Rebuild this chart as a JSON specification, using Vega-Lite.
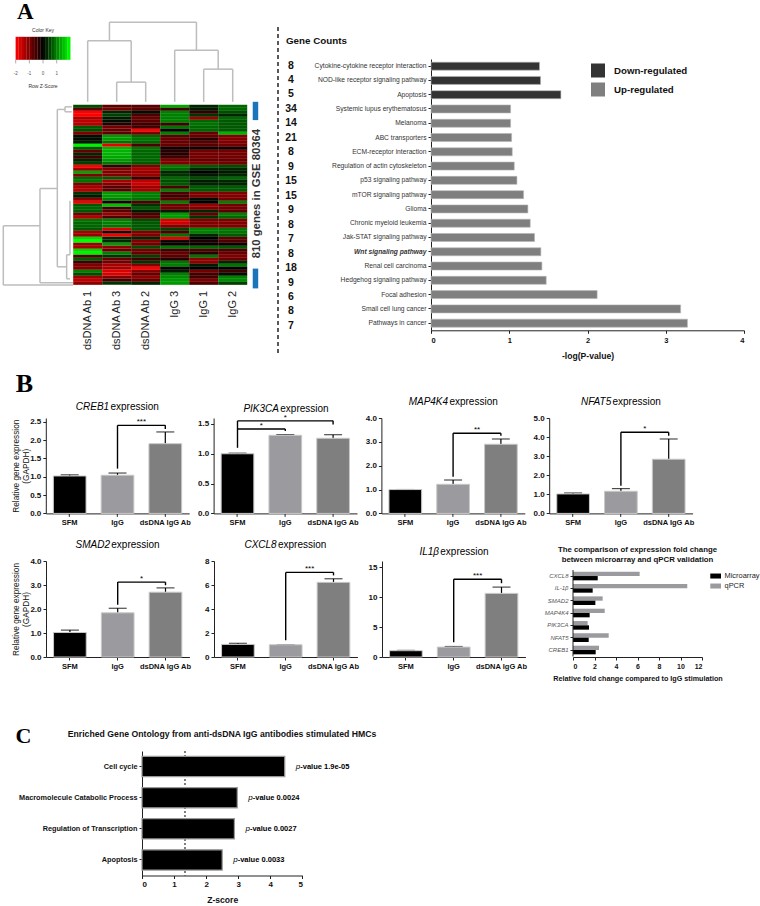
{"$schema":"https://vega.github.io/schema/vega-lite/v6.json","padding":{"left":2,"top":0,"right":0,"bottom":0},"background":"white",
"config":{"view":{"stroke":null},"font":"Liberation Sans","axis":{"grid":false,"domainColor":"#222","tickColor":"#222","labelColor":"#111","titleColor":"#111","tickSize":3,"labelPadding":2,"domainWidth":1,"tickWidth":1,"titleFontWeight":"normal","labelOverlap":false},"title":{"color":"#111"}},
"datasets":{
"cells":[
{"r":0.5,"c":0.5,"z":0.6},{"r":0.5,"c":1.5,"z":-0.7},{"r":0.5,"c":2.5,"z":-0.7},{"r":0.5,"c":3.5,"z":1.3},{"r":0.5,"c":4.5,"z":0.3},{"r":0.5,"c":5.5,"z":0.8},
{"r":1.5,"c":0.5,"z":-0.7},{"r":1.5,"c":1.5,"z":-0.9},{"r":1.5,"c":2.5,"z":-0.7},{"r":1.5,"c":3.5,"z":-0.5},{"r":1.5,"c":4.5,"z":0.2},{"r":1.5,"c":5.5,"z":0.8},
{"r":2.5,"c":0.5,"z":-2},{"r":2.5,"c":1.5,"z":0.3},{"r":2.5,"c":2.5,"z":0.1},{"r":2.5,"c":3.5,"z":1},{"r":2.5,"c":4.5,"z":-0.4},{"r":2.5,"c":5.5,"z":0.6},
{"r":3.5,"c":0.5,"z":-2},{"r":3.5,"c":1.5,"z":0.5},{"r":3.5,"c":2.5,"z":-0.6},{"r":3.5,"c":3.5,"z":1},{"r":3.5,"c":4.5,"z":0.4},{"r":3.5,"c":5.5,"z":0.3},
{"r":4.5,"c":0.5,"z":-1.3},{"r":4.5,"c":1.5,"z":0.2},{"r":4.5,"c":2.5,"z":-0.8},{"r":4.5,"c":3.5,"z":1},{"r":4.5,"c":4.5,"z":-1.2},{"r":4.5,"c":5.5,"z":0.8},
{"r":5.5,"c":0.5,"z":-1.5},{"r":5.5,"c":1.5,"z":0.1},{"r":5.5,"c":2.5,"z":-0.7},{"r":5.5,"c":3.5,"z":1},{"r":5.5,"c":4.5,"z":0.8},{"r":5.5,"c":5.5,"z":0.7},
{"r":6.5,"c":0.5,"z":-1.4},{"r":6.5,"c":1.5,"z":-0.3},{"r":6.5,"c":2.5,"z":-0.5},{"r":6.5,"c":3.5,"z":-0.5},{"r":6.5,"c":4.5,"z":0.9},{"r":6.5,"c":5.5,"z":0.7},
{"r":7.5,"c":0.5,"z":0.7},{"r":7.5,"c":1.5,"z":-0.9},{"r":7.5,"c":2.5,"z":-0.5},{"r":7.5,"c":3.5,"z":0.9},{"r":7.5,"c":4.5,"z":0.8},{"r":7.5,"c":5.5,"z":0.7},
{"r":8.5,"c":0.5,"z":0.6},{"r":8.5,"c":1.5,"z":-0.8},{"r":8.5,"c":2.5,"z":-2},{"r":8.5,"c":3.5,"z":0},{"r":8.5,"c":4.5,"z":0.8},{"r":8.5,"c":5.5,"z":0.7},
{"r":9.5,"c":0.5,"z":-1},{"r":9.5,"c":1.5,"z":-0.7},{"r":9.5,"c":2.5,"z":-0.9},{"r":9.5,"c":3.5,"z":1},{"r":9.5,"c":4.5,"z":-0.8},{"r":9.5,"c":5.5,"z":1.4},
{"r":10.5,"c":0.5,"z":0.1},{"r":10.5,"c":1.5,"z":1.2},{"r":10.5,"c":2.5,"z":0.8},{"r":10.5,"c":3.5,"z":-0.7},{"r":10.5,"c":4.5,"z":-0.8},{"r":10.5,"c":5.5,"z":-1},
{"r":11.5,"c":0.5,"z":0.1},{"r":11.5,"c":1.5,"z":1.2},{"r":11.5,"c":2.5,"z":0.9},{"r":11.5,"c":3.5,"z":-0.8},{"r":11.5,"c":4.5,"z":-0.3},{"r":11.5,"c":5.5,"z":-1},
{"r":12.5,"c":0.5,"z":0.2},{"r":12.5,"c":1.5,"z":0.9},{"r":12.5,"c":2.5,"z":0.8},{"r":12.5,"c":3.5,"z":-0.8},{"r":12.5,"c":4.5,"z":-0.7},{"r":12.5,"c":5.5,"z":-1},
{"r":13.5,"c":0.5,"z":1.9},{"r":13.5,"c":1.5,"z":-1.8},{"r":13.5,"c":2.5,"z":-0.6},{"r":13.5,"c":3.5,"z":-0.8},{"r":13.5,"c":4.5,"z":-0.7},{"r":13.5,"c":5.5,"z":-0.9},
{"r":14.5,"c":0.5,"z":0.7},{"r":14.5,"c":1.5,"z":1.4},{"r":14.5,"c":2.5,"z":0.9},{"r":14.5,"c":3.5,"z":-0.1},{"r":14.5,"c":4.5,"z":-0.1},{"r":14.5,"c":5.5,"z":-0.1},
{"r":15.5,"c":0.5,"z":-0.8},{"r":15.5,"c":1.5,"z":1.4},{"r":15.5,"c":2.5,"z":0.8},{"r":15.5,"c":3.5,"z":-0.3},{"r":15.5,"c":4.5,"z":-0.9},{"r":15.5,"c":5.5,"z":-0.9},
{"r":16.5,"c":0.5,"z":0.3},{"r":16.5,"c":1.5,"z":1.4},{"r":16.5,"c":2.5,"z":0.8},{"r":16.5,"c":3.5,"z":-0.3},{"r":16.5,"c":4.5,"z":-0.9},{"r":16.5,"c":5.5,"z":-0.9},
{"r":17.5,"c":0.5,"z":-0.5},{"r":17.5,"c":1.5,"z":1.3},{"r":17.5,"c":2.5,"z":0.8},{"r":17.5,"c":3.5,"z":-0.5},{"r":17.5,"c":4.5,"z":-0.9},{"r":17.5,"c":5.5,"z":-0.9},
{"r":18.5,"c":0.5,"z":0.3},{"r":18.5,"c":1.5,"z":1.2},{"r":18.5,"c":2.5,"z":0.8},{"r":18.5,"c":3.5,"z":-1},{"r":18.5,"c":4.5,"z":-0.8},{"r":18.5,"c":5.5,"z":-0.8},
{"r":19.5,"c":0.5,"z":0.5},{"r":19.5,"c":1.5,"z":0.9},{"r":19.5,"c":2.5,"z":0.7},{"r":19.5,"c":3.5,"z":-1},{"r":19.5,"c":4.5,"z":-1},{"r":19.5,"c":5.5,"z":-0.9},
{"r":20.5,"c":0.5,"z":-2},{"r":20.5,"c":1.5,"z":-0.4},{"r":20.5,"c":2.5,"z":-1},{"r":20.5,"c":3.5,"z":1},{"r":20.5,"c":4.5,"z":0.7},{"r":20.5,"c":5.5,"z":0.6},
{"r":21.5,"c":0.5,"z":-1.2},{"r":21.5,"c":1.5,"z":-1},{"r":21.5,"c":2.5,"z":-1.3},{"r":21.5,"c":3.5,"z":0.8},{"r":21.5,"c":4.5,"z":0.3},{"r":21.5,"c":5.5,"z":0.3},
{"r":22.5,"c":0.5,"z":1.3},{"r":22.5,"c":1.5,"z":-1},{"r":22.5,"c":2.5,"z":-1.2},{"r":22.5,"c":3.5,"z":0.3},{"r":22.5,"c":4.5,"z":0},{"r":22.5,"c":5.5,"z":0.2},
{"r":23.5,"c":0.5,"z":-1},{"r":23.5,"c":1.5,"z":-1},{"r":23.5,"c":2.5,"z":-1.2},{"r":23.5,"c":3.5,"z":0.4},{"r":23.5,"c":4.5,"z":0.2},{"r":23.5,"c":5.5,"z":0.3},
{"r":24.5,"c":0.5,"z":0.8},{"r":24.5,"c":1.5,"z":0.7},{"r":24.5,"c":2.5,"z":-0.4},{"r":24.5,"c":3.5,"z":0.8},{"r":24.5,"c":4.5,"z":0.6},{"r":24.5,"c":5.5,"z":0.8},
{"r":25.5,"c":0.5,"z":0.9},{"r":25.5,"c":1.5,"z":-1.3},{"r":25.5,"c":2.5,"z":-1.5},{"r":25.5,"c":3.5,"z":0.6},{"r":25.5,"c":4.5,"z":0.2},{"r":25.5,"c":5.5,"z":0.3},
{"r":26.5,"c":0.5,"z":-1},{"r":26.5,"c":1.5,"z":-1},{"r":26.5,"c":2.5,"z":-1.6},{"r":26.5,"c":3.5,"z":0.7},{"r":26.5,"c":4.5,"z":0.3},{"r":26.5,"c":5.5,"z":0.3},
{"r":27.5,"c":0.5,"z":-1.3},{"r":27.5,"c":1.5,"z":-0.7},{"r":27.5,"c":2.5,"z":-1.2},{"r":27.5,"c":3.5,"z":-0.6},{"r":27.5,"c":4.5,"z":0.7},{"r":27.5,"c":5.5,"z":0.7},
{"r":28.5,"c":0.5,"z":-1.4},{"r":28.5,"c":1.5,"z":-0.7},{"r":28.5,"c":2.5,"z":-1.3},{"r":28.5,"c":3.5,"z":1},{"r":28.5,"c":4.5,"z":0.7},{"r":28.5,"c":5.5,"z":0.7},
{"r":29.5,"c":0.5,"z":0.4},{"r":29.5,"c":1.5,"z":1.2},{"r":29.5,"c":2.5,"z":1},{"r":29.5,"c":3.5,"z":-0.6},{"r":29.5,"c":4.5,"z":-1},{"r":29.5,"c":5.5,"z":-1},
{"r":30.5,"c":0.5,"z":0.2},{"r":30.5,"c":1.5,"z":1.2},{"r":30.5,"c":2.5,"z":1},{"r":30.5,"c":3.5,"z":-0.5},{"r":30.5,"c":4.5,"z":-1},{"r":30.5,"c":5.5,"z":-1},
{"r":31.5,"c":0.5,"z":-1},{"r":31.5,"c":1.5,"z":1},{"r":31.5,"c":2.5,"z":0.9},{"r":31.5,"c":3.5,"z":-0.7},{"r":31.5,"c":4.5,"z":0.1},{"r":31.5,"c":5.5,"z":-0.9},
{"r":32.5,"c":0.5,"z":-1.9},{"r":32.5,"c":1.5,"z":-0.2},{"r":32.5,"c":2.5,"z":-0.6},{"r":32.5,"c":3.5,"z":1},{"r":32.5,"c":4.5,"z":0},{"r":32.5,"c":5.5,"z":1},
{"r":33.5,"c":0.5,"z":0.7},{"r":33.5,"c":1.5,"z":1.5},{"r":33.5,"c":2.5,"z":0.4},{"r":33.5,"c":3.5,"z":-0.9},{"r":33.5,"c":4.5,"z":-1.2},{"r":33.5,"c":5.5,"z":-0.9},
{"r":34.5,"c":0.5,"z":0.8},{"r":34.5,"c":1.5,"z":-0.5},{"r":34.5,"c":2.5,"z":0.7},{"r":34.5,"c":3.5,"z":-0.9},{"r":34.5,"c":4.5,"z":-1},{"r":34.5,"c":5.5,"z":-0.9},
{"r":35.5,"c":0.5,"z":0.7},{"r":35.5,"c":1.5,"z":-0.7},{"r":35.5,"c":2.5,"z":0.2},{"r":35.5,"c":3.5,"z":0.2},{"r":35.5,"c":4.5,"z":0.3},{"r":35.5,"c":5.5,"z":-0.7},
{"r":36.5,"c":0.5,"z":-0.9},{"r":36.5,"c":1.5,"z":-1.2},{"r":36.5,"c":2.5,"z":-0.6},{"r":36.5,"c":3.5,"z":1.2},{"r":36.5,"c":4.5,"z":-0.8},{"r":36.5,"c":5.5,"z":1},
{"r":37.5,"c":0.5,"z":-1.4},{"r":37.5,"c":1.5,"z":-0.6},{"r":37.5,"c":2.5,"z":-0.7},{"r":37.5,"c":3.5,"z":1.2},{"r":37.5,"c":4.5,"z":0.4},{"r":37.5,"c":5.5,"z":0.8},
{"r":38.5,"c":0.5,"z":0.9},{"r":38.5,"c":1.5,"z":1},{"r":38.5,"c":2.5,"z":0.6},{"r":38.5,"c":3.5,"z":-1.7},{"r":38.5,"c":4.5,"z":-1},{"r":38.5,"c":5.5,"z":-1},
{"r":39.5,"c":0.5,"z":0.8},{"r":39.5,"c":1.5,"z":1},{"r":39.5,"c":2.5,"z":0.7},{"r":39.5,"c":3.5,"z":-1.6},{"r":39.5,"c":4.5,"z":-1},{"r":39.5,"c":5.5,"z":-1},
{"r":40.5,"c":0.5,"z":0.8},{"r":40.5,"c":1.5,"z":0.9},{"r":40.5,"c":2.5,"z":0.7},{"r":40.5,"c":3.5,"z":-1},{"r":40.5,"c":4.5,"z":-1},{"r":40.5,"c":5.5,"z":-1},
{"r":41.5,"c":0.5,"z":0.7},{"r":41.5,"c":1.5,"z":-1.7},{"r":41.5,"c":2.5,"z":0.7},{"r":41.5,"c":3.5,"z":0.5},{"r":41.5,"c":4.5,"z":1},{"r":41.5,"c":5.5,"z":0.9},
{"r":42.5,"c":0.5,"z":-1.3},{"r":42.5,"c":1.5,"z":-0.2},{"r":42.5,"c":2.5,"z":-1},{"r":42.5,"c":3.5,"z":-0.6},{"r":42.5,"c":4.5,"z":1},{"r":42.5,"c":5.5,"z":0.9},
{"r":43.5,"c":0.5,"z":-1.2},{"r":43.5,"c":1.5,"z":-1.9},{"r":43.5,"c":2.5,"z":-1},{"r":43.5,"c":3.5,"z":0.9},{"r":43.5,"c":4.5,"z":0.3},{"r":43.5,"c":5.5,"z":0.7},
{"r":44.5,"c":0.5,"z":1.7},{"r":44.5,"c":1.5,"z":0.3},{"r":44.5,"c":2.5,"z":0.3},{"r":44.5,"c":3.5,"z":-1.8},{"r":44.5,"c":4.5,"z":0},{"r":44.5,"c":5.5,"z":-0.7},
{"r":45.5,"c":0.5,"z":2},{"r":45.5,"c":1.5,"z":0.3},{"r":45.5,"c":2.5,"z":-1},{"r":45.5,"c":3.5,"z":-0.1},{"r":45.5,"c":4.5,"z":-0.2},{"r":45.5,"c":5.5,"z":-0.6},
{"r":46.5,"c":0.5,"z":-1.2},{"r":46.5,"c":1.5,"z":1.2},{"r":46.5,"c":2.5,"z":-0.9},{"r":46.5,"c":3.5,"z":-0.1},{"r":46.5,"c":4.5,"z":-0.1},{"r":46.5,"c":5.5,"z":-0.1},
{"r":47.5,"c":0.5,"z":-1.3},{"r":47.5,"c":1.5,"z":-1.1},{"r":47.5,"c":2.5,"z":0.6},{"r":47.5,"c":3.5,"z":0.9},{"r":47.5,"c":4.5,"z":0.8},{"r":47.5,"c":5.5,"z":0.7},
{"r":48.5,"c":0.5,"z":1.7},{"r":48.5,"c":1.5,"z":-0.8},{"r":48.5,"c":2.5,"z":-0.9},{"r":48.5,"c":3.5,"z":-0.5},{"r":48.5,"c":4.5,"z":-0.6},{"r":48.5,"c":5.5,"z":-0.6},
{"r":49.5,"c":0.5,"z":1.9},{"r":49.5,"c":1.5,"z":1},{"r":49.5,"c":2.5,"z":-0.8},{"r":49.5,"c":3.5,"z":-0.8},{"r":49.5,"c":4.5,"z":-0.3},{"r":49.5,"c":5.5,"z":-0.8},
{"r":50.5,"c":0.5,"z":-0.6},{"r":50.5,"c":1.5,"z":0.4},{"r":50.5,"c":2.5,"z":0.5},{"r":50.5,"c":3.5,"z":-0.7},{"r":50.5,"c":4.5,"z":0.9},{"r":50.5,"c":5.5,"z":-1},
{"r":51.5,"c":0.5,"z":0.7},{"r":51.5,"c":1.5,"z":-0.8},{"r":51.5,"c":2.5,"z":-0.5},{"r":51.5,"c":3.5,"z":-0.3},{"r":51.5,"c":4.5,"z":-1.1},{"r":51.5,"c":5.5,"z":-0.8},
{"r":52.5,"c":0.5,"z":-0.5},{"r":52.5,"c":1.5,"z":-0.9},{"r":52.5,"c":2.5,"z":0.4},{"r":52.5,"c":3.5,"z":0.9},{"r":52.5,"c":4.5,"z":-1.1},{"r":52.5,"c":5.5,"z":0.3},
{"r":53.5,"c":0.5,"z":-1},{"r":53.5,"c":1.5,"z":-1.3},{"r":53.5,"c":2.5,"z":-1},{"r":53.5,"c":3.5,"z":1},{"r":53.5,"c":4.5,"z":0.2},{"r":53.5,"c":5.5,"z":0.9},
{"r":54.5,"c":0.5,"z":-1},{"r":54.5,"c":1.5,"z":-1.3},{"r":54.5,"c":2.5,"z":-2},{"r":54.5,"c":3.5,"z":-0.1},{"r":54.5,"c":4.5,"z":0},{"r":54.5,"c":5.5,"z":0},
{"r":55.5,"c":0.5,"z":1},{"r":55.5,"c":1.5,"z":-1.7},{"r":55.5,"c":2.5,"z":-1},{"r":55.5,"c":3.5,"z":0.2},{"r":55.5,"c":4.5,"z":-0.9},{"r":55.5,"c":5.5,"z":-0.5},
{"r":56.5,"c":0.5,"z":0.6},{"r":56.5,"c":1.5,"z":-1.7},{"r":56.5,"c":2.5,"z":-0.8},{"r":56.5,"c":3.5,"z":1},{"r":56.5,"c":4.5,"z":-0.5},{"r":56.5,"c":5.5,"z":0.1},
{"r":57.5,"c":0.5,"z":-1.2},{"r":57.5,"c":1.5,"z":-1},{"r":57.5,"c":2.5,"z":-1.1},{"r":57.5,"c":3.5,"z":1.1},{"r":57.5,"c":4.5,"z":-0.5},{"r":57.5,"c":5.5,"z":1},
{"r":58.5,"c":0.5,"z":-1.5},{"r":58.5,"c":1.5,"z":-0.5},{"r":58.5,"c":2.5,"z":-0.8},{"r":58.5,"c":3.5,"z":1.2},{"r":58.5,"c":4.5,"z":-1},{"r":58.5,"c":5.5,"z":1.1},
{"r":59.5,"c":0.5,"z":-1.1},{"r":59.5,"c":1.5,"z":0.4},{"r":59.5,"c":2.5,"z":0.3},{"r":59.5,"c":3.5,"z":1.2},{"r":59.5,"c":4.5,"z":-0.6},{"r":59.5,"c":5.5,"z":0.5}
],
"dendro":[
{"x1":1.5,"x2":2.5,"y1":-7.56,"y2":-7.56},{"x1":4.5,"x2":5.5,"y1":-11.89,"y2":-11.89},{"x1":3.5,"x2":5,"y1":-18.22,"y2":-18.22},{"x1":0.5,"x2":2,"y1":-21.33,"y2":-21.33},{"x1":1.25,"x2":4.25,"y1":-27.56,"y2":-27.56},
{"x1":1.5,"x2":1.5,"y1":-1,"y2":-7.56},{"x1":2.5,"x2":2.5,"y1":-1,"y2":-7.56},{"x1":4.5,"x2":4.5,"y1":-1,"y2":-11.89},{"x1":5.5,"x2":5.5,"y1":-1,"y2":-11.89},{"x1":3.5,"x2":3.5,"y1":-1,"y2":-18.22},{"x1":5,"x2":5,"y1":-11.89,"y2":-18.22},{"x1":0.5,"x2":0.5,"y1":-1,"y2":-21.33},{"x1":2,"x2":2,"y1":-7.56,"y2":-21.33},{"x1":1.25,"x2":1.25,"y1":-21.33,"y2":-27.56},{"x1":4.25,"x2":4.25,"y1":-18.22,"y2":-27.56},
{"x1":-2.41,"x2":-2.41,"y1":40.33,"y2":60.1},{"x1":-2.41,"x2":-1.145,"y1":40.33,"y2":40.33},{"x1":-2.41,"x2":0,"y1":60.1,"y2":60.1},{"x1":-1.145,"x2":-1.145,"y1":27.9,"y2":59.3},{"x1":-1.145,"x2":-0.547,"y1":27.9,"y2":27.9},{"x1":-1.145,"x2":0,"y1":59.3,"y2":59.3},{"x1":-0.547,"x2":-0.547,"y1":1.55,"y2":54},{"x1":-0.547,"x2":-0.283,"y1":1.55,"y2":1.55},{"x1":-0.547,"x2":-0.225,"y1":54,"y2":54},{"x1":-0.283,"x2":-0.283,"y1":0.67,"y2":2.33},{"x1":-0.283,"x2":-0.05,"y1":0.67,"y2":0.67},{"x1":-0.283,"x2":-0.05,"y1":2.33,"y2":2.33},{"x1":-0.225,"x2":-0.225,"y1":50,"y2":58},{"x1":-0.225,"x2":-0.11,"y1":50,"y2":50},{"x1":-0.225,"x2":-0.11,"y1":58,"y2":58},{"x1":-0.11,"x2":-0.11,"y1":32,"y2":50}
],
"samples":[{"c":0.5,"name":"dsDNA Ab 1"},{"c":1.5,"name":"dsDNA Ab 3"},{"c":2.5,"name":"dsDNA Ab 2"},{"c":3.5,"name":"IgG 3"},{"c":4.5,"name":"IgG 1"},{"c":5.5,"name":"IgG 2"}],
"key":[{"z":-1.9},{"z":-1.7},{"z":-1.5},{"z":-1.3},{"z":-1.1},{"z":-0.9},{"z":-0.7},{"z":-0.5},{"z":-0.3},{"z":-0.1},{"z":0.1},{"z":0.3},{"z":0.5},{"z":0.7},{"z":0.9},{"z":1.1},{"z":1.3},{"z":1.5},{"z":1.7},{"z":1.9}],
"keyticks":[{"t":-2},{"t":-1},{"t":0},{"t":1}],
"pathways":[
{"order":1,"pathway":"Cytokine-cytokine receptor interaction","p":1.387,"n":8,"dir":"Down-regulated"},
{"order":2,"pathway":"NOD-like receptor signaling pathway","p":1.4,"n":4,"dir":"Down-regulated"},
{"order":3,"pathway":"Apoptosis","p":1.66,"n":5,"dir":"Down-regulated"},
{"order":4,"pathway":"Systemic lupus erythematosus","p":1.017,"n":34,"dir":"Up-regulated"},
{"order":5,"pathway":"Melanoma","p":1.017,"n":14,"dir":"Up-regulated"},
{"order":6,"pathway":"ABC transporters","p":1.03,"n":21,"dir":"Up-regulated"},
{"order":7,"pathway":"ECM-receptor interaction","p":1.038,"n":8,"dir":"Up-regulated"},
{"order":8,"pathway":"Regulation of actin cytoskeleton","p":1.064,"n":9,"dir":"Up-regulated"},
{"order":9,"pathway":"p53 signaling pathway","p":1.098,"n":15,"dir":"Up-regulated"},
{"order":10,"pathway":"mTOR signaling pathway","p":1.183,"n":15,"dir":"Up-regulated"},
{"order":11,"pathway":"Glioma","p":1.238,"n":9,"dir":"Up-regulated"},
{"order":12,"pathway":"Chronic myeloid leukemia","p":1.268,"n":8,"dir":"Up-regulated"},
{"order":13,"pathway":"Jak-STAT signaling pathway","p":1.323,"n":7,"dir":"Up-regulated"},
{"order":14,"pathway":"Wnt signaling pathway","p":1.404,"n":8,"dir":"Up-regulated"},
{"order":15,"pathway":"Renal cell carcinoma","p":1.417,"n":18,"dir":"Up-regulated"},
{"order":16,"pathway":"Hedgehog signaling pathway","p":1.472,"n":9,"dir":"Up-regulated"},
{"order":17,"pathway":"Focal adhesion","p":2.123,"n":6,"dir":"Up-regulated"},
{"order":18,"pathway":"Small cell lung cancer","p":3.19,"n":8,"dir":"Up-regulated"},
{"order":19,"pathway":"Pathways in cancer","p":3.277,"n":7,"dir":"Up-regulated"}],
"bars":[
{"gene":"CREB1","group":"SFM","value":1.02,"top":1.05},{"gene":"CREB1","group":"IgG","value":1.04,"top":1.1},{"gene":"CREB1","group":"dsDNA IgG Ab","value":1.9,"top":2.22},
{"gene":"PIK3CA","group":"SFM","value":1,"top":1.01},{"gene":"PIK3CA","group":"IgG","value":1.31,"top":1.32},{"gene":"PIK3CA","group":"dsDNA IgG Ab","value":1.26,"top":1.32},
{"gene":"MAP4K4","group":"SFM","value":1,"top":1},{"gene":"MAP4K4","group":"IgG","value":1.22,"top":1.4},{"gene":"MAP4K4","group":"dsDNA IgG Ab","value":2.9,"top":3.12},
{"gene":"NFAT5","group":"SFM","value":1.02,"top":1.07},{"gene":"NFAT5","group":"IgG","value":1.16,"top":1.3},{"gene":"NFAT5","group":"dsDNA IgG Ab","value":2.84,"top":3.9},
{"gene":"SMAD2","group":"SFM","value":1.02,"top":1.12},{"gene":"SMAD2","group":"IgG","value":1.84,"top":2.03},{"gene":"SMAD2","group":"dsDNA IgG Ab","value":2.7,"top":2.88},
{"gene":"CXCL8","group":"SFM","value":1.05,"top":1.14},{"gene":"CXCL8","group":"IgG","value":1.02,"top":1.03},{"gene":"CXCL8","group":"dsDNA IgG Ab","value":6.22,"top":6.52},
{"gene":"IL1B","group":"SFM","value":1.05,"top":1.1},{"gene":"IL1B","group":"IgG","value":1.65,"top":1.75},{"gene":"IL1B","group":"dsDNA IgG Ab","value":10.6,"top":11.65}],
"brackets":[
{"gene":"CREB1","a":"IgG","b":"dsDNA IgG Ab","lo":1.22,"top":2.4,"hi":2.3,"star":"***","sy":2.5},
{"gene":"PIK3CA","a":"SFM","b":"IgG","lo":1.1,"top":1.415,"hi":1.38,"star":"*","sy":1.46},
{"gene":"PIK3CA","a":"SFM","b":"dsDNA IgG Ab","lo":1.415,"top":1.552,"hi":1.49,"star":"","sy":1.6},
{"gene":"MAP4K4","a":"IgG","b":"dsDNA IgG Ab","lo":1.54,"top":3.36,"hi":3.26,"star":"**","sy":3.5},
{"gene":"NFAT5","a":"IgG","b":"dsDNA IgG Ab","lo":1.45,"top":4.25,"hi":4.07,"star":"*","sy":4.42},
{"gene":"SMAD2","a":"IgG","b":"dsDNA IgG Ab","lo":2.18,"top":3.12,"hi":2.99,"star":"*","sy":3.25},
{"gene":"CXCL8","a":"IgG","b":"dsDNA IgG Ab","lo":1.39,"top":7.05,"hi":6.8,"star":"***","sy":7.33},
{"gene":"IL1B","a":"IgG","b":"dsDNA IgG Ab","lo":2.46,"top":12.96,"hi":12.3,"star":"***","sy":13.5}],
"fold":[
{"gene":"CXCL8","method":"qPCR","fc":6.2},{"gene":"CXCL8","method":"Microarray","fc":2.3},
{"gene":"IL-1β","method":"qPCR","fc":10.63},{"gene":"IL-1β","method":"Microarray","fc":1.83},
{"gene":"SMAD2","method":"qPCR","fc":2.76},{"gene":"SMAD2","method":"Microarray","fc":2.08},
{"gene":"MAP4K4","method":"qPCR","fc":2.95},{"gene":"MAP4K4","method":"Microarray","fc":1.55},
{"gene":"PIK3CA","method":"qPCR","fc":1.36},{"gene":"PIK3CA","method":"Microarray","fc":1.49},
{"gene":"NFAT5","method":"qPCR","fc":3.32},{"gene":"NFAT5","method":"Microarray","fc":1.46},
{"gene":"CREB1","method":"qPCR","fc":2.42},{"gene":"CREB1","method":"Microarray","fc":2.11}],
"go":[{"term":"Cell cycle","z":4.45,"pv":"-value 1.9e-05"},{"term":"Macromolecule Catabolic Process","z":2.97,"pv":"-value 0.0024"},{"term":"Regulation of Transcription","z":2.88,"pv":"-value 0.0027"},{"term":"Apoptosis","z":2.5,"pv":"-value 0.0033"}]
},
"spacing":0,"bounds":"full",
"vconcat":[
{"hconcat":[
{"width":275,"height":271.3,"resolve":{"scale":{"x":"independent"}},"layer":[
{"data":{"name":"cells"},"mark":{"type":"rect","width":29,"height":3.1},"encoding":{"x":{"field":"c","type":"quantitative","scale":{"domain":[-2.42,7.062]},"axis":null},"y":{"field":"r","type":"quantitative","scale":{"domain":[-15.27,75.17],"reverse":true},"axis":null},"color":{"field":"z","type":"quantitative","scale":{"domain":[-2,0,2],"range":["#ff0000","#000000","#00ff00"],"clamp":true,"interpolate":"rgb"},"legend":null}}},
{"data":{"name":"dendro"},"mark":{"type":"rule","color":"#bdbdbd","strokeWidth":1.5},"encoding":{"x":{"field":"x1","type":"quantitative","scale":{"domain":[-2.42,7.062]},"axis":null},"x2":{"field":"x2"},"y":{"field":"y1","type":"quantitative","scale":{"domain":[-15.27,75.17],"reverse":true},"axis":null},"y2":{"field":"y2"}}},
{"data":{"name":"samples"},"mark":{"type":"text","angle":270,"align":"right","baseline":"middle","fontSize":11,"color":"#222"},"encoding":{"x":{"field":"c","type":"quantitative","scale":{"domain":[-2.42,7.062]},"axis":null},"y":{"datum":62,"scale":{"domain":[-15.27,75.17],"reverse":true},"axis":null},"text":{"field":"name"}}},
{"mark":{"type":"rule","color":"#1a75bb","strokeWidth":5.5},"data":{"values":[{"part":"upper"}]},"encoding":{"x":{"datum":6.285,"scale":{"domain":[-2.42,7.062]},"axis":null},"y":{"datum":-1,"scale":{"domain":[-15.27,75.17],"reverse":true},"axis":null},"y2":{"datum":5.1}}},
{"mark":{"type":"rule","color":"#1a75bb","strokeWidth":5.5},"data":{"values":[{"part":"lower"}]},"encoding":{"x":{"datum":6.285,"scale":{"domain":[-2.42,7.062]},"axis":null},"y":{"datum":54.6,"scale":{"domain":[-15.27,75.17],"reverse":true},"axis":null},"y2":{"datum":61.2}}},
{"mark":{"type":"text","angle":270,"align":"center","baseline":"middle","fontWeight":"bold","fontSize":11.3,"color":"#333"},"data":{"values":[{"t":"810 genes in GSE 80364"}]},"encoding":{"x":{"datum":6.33,"scale":{"domain":[-2.42,7.062]},"axis":null},"y":{"datum":29.6,"scale":{"domain":[-15.27,75.17],"reverse":true},"axis":null},"text":{"field":"t"}}},
{"data":{"name":"key"},"mark":{"type":"rect","width":2.9},"encoding":{"x":{"field":"z","type":"quantitative","scale":{"domain":[-2.929,17.19]},"axis":null},"y":{"datum":-22.67,"scale":{"domain":[-15.27,75.17],"reverse":true},"axis":null},"y2":{"datum":-15},"color":{"field":"z","type":"quantitative","legend":null}}},
{"data":{"name":"keyticks"},"mark":{"type":"rule","color":"#777","strokeWidth":0.6},"encoding":{"x":{"field":"t","type":"quantitative","scale":{"domain":[-2.929,17.19]},"axis":null},"y":{"datum":-15,"scale":{"domain":[-15.27,75.17],"reverse":true},"axis":null},"y2":{"datum":-13.8}}},
{"data":{"name":"keyticks"},"mark":{"type":"text","fontSize":4.5,"color":"#555","baseline":"middle"},"encoding":{"x":{"field":"t","type":"quantitative","scale":{"domain":[-2.929,17.19]},"axis":null},"y":{"datum":-10.3,"scale":{"domain":[-15.27,75.17],"reverse":true},"axis":null},"text":{"field":"t"}}},
{"data":{"values":[{"t":"Color Key"}]},"mark":{"type":"text","fontSize":5,"color":"#333","baseline":"middle"},"encoding":{"x":{"datum":0,"scale":{"domain":[-2.929,17.19]},"axis":null},"y":{"datum":-25.1,"scale":{"domain":[-15.27,75.17],"reverse":true},"axis":null},"text":{"field":"t"}}},
{"data":{"values":[{"t":"Row Z-Score"}]},"mark":{"type":"text","fontSize":5,"color":"#333","baseline":"middle"},"encoding":{"x":{"datum":0,"scale":{"domain":[-2.929,17.19]},"axis":null},"y":{"datum":-6.2,"scale":{"domain":[-15.27,75.17],"reverse":true},"axis":null},"text":{"field":"t"}}},
{"data":{"values":[{"t":"A"}]},"mark":{"type":"text","font":"Liberation Serif","fontWeight":"bold","fontSize":23,"align":"left","baseline":"alphabetic","color":"#000"},"encoding":{"x":{"datum":-1.9,"scale":{"domain":[-2.929,17.19]},"axis":null},"y":{"datum":-28.67,"scale":{"domain":[-15.27,75.17],"reverse":true},"axis":null},"text":{"field":"t"}}}
]},
{"width":153,"height":271.3,"layer":[
{"data":{"values":[{"t":"divider"}]},"mark":{"type":"rule","color":"#000","strokeWidth":1.3,"strokeDash":[4,3]},"encoding":{"x":{"datum":0,"scale":{"domain":[0,153]},"axis":null},"y":{"datum":-1.67,"scale":{"domain":[0.55,19.3],"reverse":true},"axis":null},"y2":{"datum":20.88}}},
{"data":{"values":[{"t":"Gene Counts"}]},"mark":{"type":"text","align":"left","baseline":"alphabetic","fontWeight":"bold","fontSize":9.8,"color":"#111"},"encoding":{"x":{"datum":8,"scale":{"domain":[0,153]},"axis":null},"y":{"datum":-0.5,"scale":{"domain":[0.55,19.3],"reverse":true},"axis":null},"text":{"field":"t"}}},
{"data":{"name":"pathways"},"mark":{"type":"text","align":"center","baseline":"middle","fontWeight":"bold","fontSize":10.5,"color":"#111"},"encoding":{"x":{"datum":13,"scale":{"domain":[0,153]},"axis":null},"y":{"field":"order","type":"quantitative","scale":{"domain":[0.55,19.3],"reverse":true},"axis":null},"text":{"field":"n","type":"nominal"}}}
]},
{"width":313,"height":271.3,"data":{"name":"pathways"},"mark":{"type":"bar","stroke":"#b5b5b5","strokeWidth":0.6},"encoding":{
"x":{"field":"p","type":"quantitative","scale":{"domain":[0,4]},"axis":{"values":[0,1,2,3,4],"tickCount":10,"format":"d","title":"-log(P-value)","titleFontWeight":"bold","titleFontSize":8.6,"titlePadding":8,"labelFontWeight":"bold","labelFontSize":7.5,"labelPadding":3}},
"y":{"field":"pathway","type":"nominal","sort":{"field":"order"},"scale":{"paddingInner":0.44,"paddingOuter":0.22},"axis":{"title":null,"labelFontSize":6.7,"labelColor":"#333","labelFontWeight":{"condition":{"test":"datum.value==='Wnt signaling pathway'","value":"bold"},"value":"normal"},"labelFontStyle":{"condition":{"test":"datum.value==='Wnt signaling pathway'","value":"italic"},"value":"normal"},"labelLimit":200}},
"color":{"field":"dir","type":"nominal","scale":{"domain":["Down-regulated","Up-regulated"],"range":["#333333","#7f7f7f"]},"legend":{"orient":"none","legendX":160,"legendY":4.5,"title":null,"symbolType":"square","symbolSize":196,"symbolStrokeWidth":0,"symbolOpacity":1,"labelFontWeight":"bold","labelFontSize":9.7,"labelColor":"#111","rowPadding":5,"labelOffset":9}}
}}
],"spacing":0,"bounds":"flush"},
{"width":10,"height":9.1,"data":{"values":[{}]},"mark":{"type":"text","fontSize":1},"encoding":{"text":{"value":" "}}},
{"hconcat":[
{"width":18.9,"height":1,"data":{"values":[{}]},"mark":{"type":"text","fontSize":1},"encoding":{"text":{"value":" "}}},
{"width":143.4,"height":95.4,"data":{"name":"bars"},"transform":[{"filter":"datum.gene==='CREB1'"}],"layer":[
{"mark":{"type":"rule","color":"#000","strokeWidth":1.2},"encoding":{"x":{"field":"group","type":"nominal","scale":{"domain":["SFM","IgG","dsDNA IgG Ab"],"paddingInner":0.316,"paddingOuter":0.158},"axis":{"labelAngle":0,"labelFontWeight":"bold","labelFontSize":7.5,"title":null}},"y":{"field":"value","type":"quantitative","scale":{"domain":[0,2.5]},"axis":{"values":[0,0.5,1,1.5,2,2.5],"tickCount":12,"format":".1f","labelFontWeight":"bold","labelFontSize":8,"titleFontSize":8.3,"titlePadding":-1,"title":["Relative gene expression","(GAPDH)"]}},"y2":{"field":"top"}}},
{"mark":{"type":"tick","orient":"horizontal","color":"#000","size":18,"thickness":1.2},"encoding":{"x":{"field":"group","type":"nominal"},"y":{"field":"top","type":"quantitative"}}},
{"mark":{"type":"bar","stroke":"#c8c8c8","strokeWidth":1},"encoding":{"x":{"field":"group","type":"nominal"},"y":{"field":"value","type":"quantitative"},"color":{"field":"group","type":"nominal","scale":{"domain":["SFM","IgG","dsDNA IgG Ab"],"range":["#000000","#9b9b9f","#7f7f7f"]},"legend":null}}},
{"data":{"name":"brackets"},"transform":[{"filter":"datum.gene==='CREB1'"}],"mark":{"type":"rule","color":"#000","strokeWidth":1.4},"encoding":{"x":{"field":"a","type":"nominal"},"y":{"field":"lo","type":"quantitative"},"y2":{"field":"top"}}},
{"data":{"name":"brackets"},"transform":[{"filter":"datum.gene==='CREB1'"}],"mark":{"type":"rule","color":"#000","strokeWidth":1.4},"encoding":{"x":{"field":"b","type":"nominal"},"y":{"field":"hi","type":"quantitative"},"y2":{"field":"top"}}},
{"data":{"name":"brackets"},"transform":[{"filter":"datum.gene==='CREB1'"}],"mark":{"type":"rule","color":"#000","strokeWidth":1.4},"encoding":{"x":{"field":"a","type":"nominal"},"x2":{"field":"b"},"y":{"field":"top","type":"quantitative"}}},
{"data":{"name":"brackets"},"transform":[{"filter":"datum.gene==='CREB1'"}],"mark":{"type":"text","dx":23.9,"fontSize":8,"baseline":"middle","color":"#000"},"encoding":{"x":{"field":"a","type":"nominal"},"y":{"field":"sy","type":"quantitative"},"text":{"field":"star"}}},
{"data":{"values":[{"t":"CREB1"}]},"mark":{"type":"text","fontSize":10,"fontStyle":"italic","align":"right","dx":-8.3,"baseline":"alphabetic"},"encoding":{"x":{"datum":"IgG","type":"nominal"},"y":{"datum":2.83},"text":{"field":"t"}}},
{"data":{"values":[{"t":"expression"}]},"mark":{"type":"text","fontSize":10,"align":"left","dx":-7,"baseline":"alphabetic"},"encoding":{"x":{"datum":"IgG","type":"nominal"},"y":{"datum":2.83},"text":{"field":"t"}}},
{"data":{"values":[{"t":"B"}]},"mark":{"type":"text","font":"Liberation Serif","fontWeight":"bold","fontSize":26,"align":"left","dx":-54,"baseline":"alphabetic","color":"#000"},"encoding":{"x":{"datum":"SFM","type":"nominal"},"y":{"datum":3.3},"text":{"field":"t"}}}
]},
{"width":143.4,"height":95.4,"data":{"name":"bars"},"transform":[{"filter":"datum.gene==='PIK3CA'"}],"layer":[
{"mark":{"type":"rule","color":"#000","strokeWidth":1.2},"encoding":{"x":{"field":"group","type":"nominal","scale":{"domain":["SFM","IgG","dsDNA IgG Ab"],"paddingInner":0.316,"paddingOuter":0.158},"axis":{"labelAngle":0,"labelFontWeight":"bold","labelFontSize":7.5,"title":null}},"y":{"field":"value","type":"quantitative","scale":{"domain":[0,1.5]},"axis":{"values":[0,0.5,1,1.5],"tickCount":12,"format":".1f","labelFontWeight":"bold","labelFontSize":8,"title":null}},"y2":{"field":"top"}}},
{"mark":{"type":"tick","orient":"horizontal","color":"#000","size":18,"thickness":1.2},"encoding":{"x":{"field":"group","type":"nominal"},"y":{"field":"top","type":"quantitative"}}},
{"mark":{"type":"bar","stroke":"#c8c8c8","strokeWidth":1},"encoding":{"x":{"field":"group","type":"nominal"},"y":{"field":"value","type":"quantitative"},"color":{"field":"group","type":"nominal","scale":{"domain":["SFM","IgG","dsDNA IgG Ab"],"range":["#000000","#9b9b9f","#7f7f7f"]},"legend":null}}},
{"data":{"name":"brackets"},"transform":[{"filter":"datum.gene==='PIK3CA'"}],"mark":{"type":"rule","color":"#000","strokeWidth":1.4},"encoding":{"x":{"field":"a","type":"nominal"},"y":{"field":"lo","type":"quantitative"},"y2":{"field":"top"}}},
{"data":{"name":"brackets"},"transform":[{"filter":"datum.gene==='PIK3CA'"}],"mark":{"type":"rule","color":"#000","strokeWidth":1.4},"encoding":{"x":{"field":"b","type":"nominal"},"y":{"field":"hi","type":"quantitative"},"y2":{"field":"top"}}},
{"data":{"name":"brackets"},"transform":[{"filter":"datum.gene==='PIK3CA'"}],"mark":{"type":"rule","color":"#000","strokeWidth":1.4},"encoding":{"x":{"field":"a","type":"nominal"},"x2":{"field":"b"},"y":{"field":"top","type":"quantitative"}}},
{"data":{"name":"brackets"},"transform":[{"filter":"datum.gene==='PIK3CA'"}],"mark":{"type":"text","dx":23.9,"fontSize":8,"baseline":"middle","color":"#000"},"encoding":{"x":{"field":"a","type":"nominal"},"y":{"field":"sy","type":"quantitative"},"text":{"field":"star"}}},
{"data":{"values":[{"t":"*"}]},"mark":{"type":"text","fontSize":8,"baseline":"middle","color":"#000"},"encoding":{"x":{"datum":"IgG","type":"nominal"},"y":{"datum":1.6},"text":{"field":"t"}}},
{"data":{"values":[{"t":"PIK3CA"}]},"mark":{"type":"text","fontSize":10,"fontStyle":"italic","align":"right","dx":-6.3,"baseline":"alphabetic"},"encoding":{"x":{"datum":"IgG","type":"nominal"},"y":{"datum":1.698},"text":{"field":"t"}}},
{"data":{"values":[{"t":"expression"}]},"mark":{"type":"text","fontSize":10,"align":"left","dx":-5,"baseline":"alphabetic"},"encoding":{"x":{"datum":"IgG","type":"nominal"},"y":{"datum":1.698},"text":{"field":"t"}}}
]},
{"width":143.4,"height":95.4,"data":{"name":"bars"},"transform":[{"filter":"datum.gene==='MAP4K4'"}],"layer":[
{"mark":{"type":"rule","color":"#000","strokeWidth":1.2},"encoding":{"x":{"field":"group","type":"nominal","scale":{"domain":["SFM","IgG","dsDNA IgG Ab"],"paddingInner":0.316,"paddingOuter":0.158},"axis":{"labelAngle":0,"labelFontWeight":"bold","labelFontSize":7.5,"title":null}},"y":{"field":"value","type":"quantitative","scale":{"domain":[0,4]},"axis":{"values":[0,1,2,3,4],"tickCount":12,"format":".1f","labelFontWeight":"bold","labelFontSize":8,"title":null}},"y2":{"field":"top"}}},
{"mark":{"type":"tick","orient":"horizontal","color":"#000","size":18,"thickness":1.2},"encoding":{"x":{"field":"group","type":"nominal"},"y":{"field":"top","type":"quantitative"}}},
{"mark":{"type":"bar","stroke":"#c8c8c8","strokeWidth":1},"encoding":{"x":{"field":"group","type":"nominal"},"y":{"field":"value","type":"quantitative"},"color":{"field":"group","type":"nominal","scale":{"domain":["SFM","IgG","dsDNA IgG Ab"],"range":["#000000","#9b9b9f","#7f7f7f"]},"legend":null}}},
{"data":{"name":"brackets"},"transform":[{"filter":"datum.gene==='MAP4K4'"}],"mark":{"type":"rule","color":"#000","strokeWidth":1.4},"encoding":{"x":{"field":"a","type":"nominal"},"y":{"field":"lo","type":"quantitative"},"y2":{"field":"top"}}},
{"data":{"name":"brackets"},"transform":[{"filter":"datum.gene==='MAP4K4'"}],"mark":{"type":"rule","color":"#000","strokeWidth":1.4},"encoding":{"x":{"field":"b","type":"nominal"},"y":{"field":"hi","type":"quantitative"},"y2":{"field":"top"}}},
{"data":{"name":"brackets"},"transform":[{"filter":"datum.gene==='MAP4K4'"}],"mark":{"type":"rule","color":"#000","strokeWidth":1.4},"encoding":{"x":{"field":"a","type":"nominal"},"x2":{"field":"b"},"y":{"field":"top","type":"quantitative"}}},
{"data":{"name":"brackets"},"transform":[{"filter":"datum.gene==='MAP4K4'"}],"mark":{"type":"text","dx":23.9,"fontSize":8,"baseline":"middle","color":"#000"},"encoding":{"x":{"field":"a","type":"nominal"},"y":{"field":"sy","type":"quantitative"},"text":{"field":"star"}}},
{"data":{"values":[{"t":"MAP4K4"}]},"mark":{"type":"text","fontSize":10,"fontStyle":"italic","align":"right","dx":-5,"baseline":"alphabetic"},"encoding":{"x":{"datum":"IgG","type":"nominal"},"y":{"datum":4.53},"text":{"field":"t"}}},
{"data":{"values":[{"t":"expression"}]},"mark":{"type":"text","fontSize":10,"align":"left","dx":-3.7,"baseline":"alphabetic"},"encoding":{"x":{"datum":"IgG","type":"nominal"},"y":{"datum":4.53},"text":{"field":"t"}}}
]},
{"width":143.4,"height":95.4,"data":{"name":"bars"},"transform":[{"filter":"datum.gene==='NFAT5'"}],"layer":[
{"mark":{"type":"rule","color":"#000","strokeWidth":1.2},"encoding":{"x":{"field":"group","type":"nominal","scale":{"domain":["SFM","IgG","dsDNA IgG Ab"],"paddingInner":0.316,"paddingOuter":0.158},"axis":{"labelAngle":0,"labelFontWeight":"bold","labelFontSize":7.5,"title":null}},"y":{"field":"value","type":"quantitative","scale":{"domain":[0,5]},"axis":{"values":[0,1,2,3,4,5],"tickCount":12,"format":".1f","labelFontWeight":"bold","labelFontSize":8,"title":null}},"y2":{"field":"top"}}},
{"mark":{"type":"tick","orient":"horizontal","color":"#000","size":18,"thickness":1.2},"encoding":{"x":{"field":"group","type":"nominal"},"y":{"field":"top","type":"quantitative"}}},
{"mark":{"type":"bar","stroke":"#c8c8c8","strokeWidth":1},"encoding":{"x":{"field":"group","type":"nominal"},"y":{"field":"value","type":"quantitative"},"color":{"field":"group","type":"nominal","scale":{"domain":["SFM","IgG","dsDNA IgG Ab"],"range":["#000000","#9b9b9f","#7f7f7f"]},"legend":null}}},
{"data":{"name":"brackets"},"transform":[{"filter":"datum.gene==='NFAT5'"}],"mark":{"type":"rule","color":"#000","strokeWidth":1.4},"encoding":{"x":{"field":"a","type":"nominal"},"y":{"field":"lo","type":"quantitative"},"y2":{"field":"top"}}},
{"data":{"name":"brackets"},"transform":[{"filter":"datum.gene==='NFAT5'"}],"mark":{"type":"rule","color":"#000","strokeWidth":1.4},"encoding":{"x":{"field":"b","type":"nominal"},"y":{"field":"hi","type":"quantitative"},"y2":{"field":"top"}}},
{"data":{"name":"brackets"},"transform":[{"filter":"datum.gene==='NFAT5'"}],"mark":{"type":"rule","color":"#000","strokeWidth":1.4},"encoding":{"x":{"field":"a","type":"nominal"},"x2":{"field":"b"},"y":{"field":"top","type":"quantitative"}}},
{"data":{"name":"brackets"},"transform":[{"filter":"datum.gene==='NFAT5'"}],"mark":{"type":"text","dx":23.9,"fontSize":8,"baseline":"middle","color":"#000"},"encoding":{"x":{"field":"a","type":"nominal"},"y":{"field":"sy","type":"quantitative"},"text":{"field":"star"}}},
{"data":{"values":[{"t":"NFAT5"}]},"mark":{"type":"text","fontSize":10,"fontStyle":"italic","align":"right","dx":-9.7,"baseline":"alphabetic"},"encoding":{"x":{"datum":"IgG","type":"nominal"},"y":{"datum":5.66},"text":{"field":"t"}}},
{"data":{"values":[{"t":"expression"}]},"mark":{"type":"text","fontSize":10,"align":"left","dx":-8.4,"baseline":"alphabetic"},"encoding":{"x":{"datum":"IgG","type":"nominal"},"y":{"datum":5.66},"text":{"field":"t"}}}
]}
],"spacing":23.8,"bounds":"flush"},
{"width":10,"height":13.2,"data":{"values":[{}]},"mark":{"type":"text","fontSize":1},"encoding":{"text":{"value":" "}}},
{"hconcat":[
{"width":42.7,"height":1,"data":{"values":[{}]},"mark":{"type":"text","fontSize":1},"encoding":{"text":{"value":" "}}},
{"width":143.4,"height":96,"data":{"name":"bars"},"transform":[{"filter":"datum.gene==='SMAD2'"}],"layer":[
{"mark":{"type":"rule","color":"#000","strokeWidth":1.2},"encoding":{"x":{"field":"group","type":"nominal","scale":{"domain":["SFM","IgG","dsDNA IgG Ab"],"paddingInner":0.316,"paddingOuter":0.158},"axis":{"labelAngle":0,"labelFontWeight":"bold","labelFontSize":7.5,"title":null}},"y":{"field":"value","type":"quantitative","scale":{"domain":[0,4]},"axis":{"values":[0,1,2,3,4],"tickCount":12,"format":".1f","labelFontWeight":"bold","labelFontSize":8,"titleFontSize":8.3,"titlePadding":-1,"title":["Relative gene expression","(GAPDH)"]}},"y2":{"field":"top"}}},
{"mark":{"type":"tick","orient":"horizontal","color":"#000","size":18,"thickness":1.2},"encoding":{"x":{"field":"group","type":"nominal"},"y":{"field":"top","type":"quantitative"}}},
{"mark":{"type":"bar","stroke":"#c8c8c8","strokeWidth":1},"encoding":{"x":{"field":"group","type":"nominal"},"y":{"field":"value","type":"quantitative"},"color":{"field":"group","type":"nominal","scale":{"domain":["SFM","IgG","dsDNA IgG Ab"],"range":["#000000","#9b9b9f","#7f7f7f"]},"legend":null}}},
{"data":{"name":"brackets"},"transform":[{"filter":"datum.gene==='SMAD2'"}],"mark":{"type":"rule","color":"#000","strokeWidth":1.4},"encoding":{"x":{"field":"a","type":"nominal"},"y":{"field":"lo","type":"quantitative"},"y2":{"field":"top"}}},
{"data":{"name":"brackets"},"transform":[{"filter":"datum.gene==='SMAD2'"}],"mark":{"type":"rule","color":"#000","strokeWidth":1.4},"encoding":{"x":{"field":"b","type":"nominal"},"y":{"field":"hi","type":"quantitative"},"y2":{"field":"top"}}},
{"data":{"name":"brackets"},"transform":[{"filter":"datum.gene==='SMAD2'"}],"mark":{"type":"rule","color":"#000","strokeWidth":1.4},"encoding":{"x":{"field":"a","type":"nominal"},"x2":{"field":"b"},"y":{"field":"top","type":"quantitative"}}},
{"data":{"name":"brackets"},"transform":[{"filter":"datum.gene==='SMAD2'"}],"mark":{"type":"text","dx":23.9,"fontSize":8,"baseline":"middle","color":"#000"},"encoding":{"x":{"field":"a","type":"nominal"},"y":{"field":"sy","type":"quantitative"},"text":{"field":"star"}}},
{"data":{"values":[{"t":"SMAD2"}]},"mark":{"type":"text","fontSize":10,"fontStyle":"italic","align":"right","dx":-7.7,"baseline":"alphabetic"},"encoding":{"x":{"datum":"IgG","type":"nominal"},"y":{"datum":4.54},"text":{"field":"t"}}},
{"data":{"values":[{"t":"expression"}]},"mark":{"type":"text","fontSize":10,"align":"left","dx":-6.4,"baseline":"alphabetic"},"encoding":{"x":{"datum":"IgG","type":"nominal"},"y":{"datum":4.54},"text":{"field":"t"}}}
]},
{"width":23.4,"height":1,"data":{"values":[{}]},"mark":{"type":"text","fontSize":1},"encoding":{"text":{"value":" "}}},
{"width":143.4,"height":96,"data":{"name":"bars"},"transform":[{"filter":"datum.gene==='CXCL8'"}],"layer":[
{"mark":{"type":"rule","color":"#000","strokeWidth":1.2},"encoding":{"x":{"field":"group","type":"nominal","scale":{"domain":["SFM","IgG","dsDNA IgG Ab"],"paddingInner":0.316,"paddingOuter":0.158},"axis":{"labelAngle":0,"labelFontWeight":"bold","labelFontSize":7.5,"title":null}},"y":{"field":"value","type":"quantitative","scale":{"domain":[0,8]},"axis":{"values":[0,2,4,6,8],"tickCount":12,"format":"d","labelFontWeight":"bold","labelFontSize":8,"title":null}},"y2":{"field":"top"}}},
{"mark":{"type":"tick","orient":"horizontal","color":"#000","size":18,"thickness":1.2},"encoding":{"x":{"field":"group","type":"nominal"},"y":{"field":"top","type":"quantitative"}}},
{"mark":{"type":"bar","stroke":"#c8c8c8","strokeWidth":1},"encoding":{"x":{"field":"group","type":"nominal"},"y":{"field":"value","type":"quantitative"},"color":{"field":"group","type":"nominal","scale":{"domain":["SFM","IgG","dsDNA IgG Ab"],"range":["#000000","#9b9b9f","#7f7f7f"]},"legend":null}}},
{"data":{"name":"brackets"},"transform":[{"filter":"datum.gene==='CXCL8'"}],"mark":{"type":"rule","color":"#000","strokeWidth":1.4},"encoding":{"x":{"field":"a","type":"nominal"},"y":{"field":"lo","type":"quantitative"},"y2":{"field":"top"}}},
{"data":{"name":"brackets"},"transform":[{"filter":"datum.gene==='CXCL8'"}],"mark":{"type":"rule","color":"#000","strokeWidth":1.4},"encoding":{"x":{"field":"b","type":"nominal"},"y":{"field":"hi","type":"quantitative"},"y2":{"field":"top"}}},
{"data":{"name":"brackets"},"transform":[{"filter":"datum.gene==='CXCL8'"}],"mark":{"type":"rule","color":"#000","strokeWidth":1.4},"encoding":{"x":{"field":"a","type":"nominal"},"x2":{"field":"b"},"y":{"field":"top","type":"quantitative"}}},
{"data":{"name":"brackets"},"transform":[{"filter":"datum.gene==='CXCL8'"}],"mark":{"type":"text","dx":23.9,"fontSize":8,"baseline":"middle","color":"#000"},"encoding":{"x":{"field":"a","type":"nominal"},"y":{"field":"sy","type":"quantitative"},"text":{"field":"star"}}},
{"data":{"values":[{"t":"CXCL8"}]},"mark":{"type":"text","fontSize":10,"fontStyle":"italic","align":"right","dx":-9,"baseline":"alphabetic"},"encoding":{"x":{"datum":"IgG","type":"nominal"},"y":{"datum":9.08},"text":{"field":"t"}}},
{"data":{"values":[{"t":"expression"}]},"mark":{"type":"text","fontSize":10,"align":"left","dx":-7.7,"baseline":"alphabetic"},"encoding":{"x":{"datum":"IgG","type":"nominal"},"y":{"datum":9.08},"text":{"field":"t"}}}
]},
{"width":23.8,"height":1,"data":{"values":[{}]},"mark":{"type":"text","fontSize":1},"encoding":{"text":{"value":" "}}},
{"width":143.4,"height":96,"data":{"name":"bars"},"transform":[{"filter":"datum.gene==='IL1B'"}],"layer":[
{"mark":{"type":"rule","color":"#000","strokeWidth":1.2},"encoding":{"x":{"field":"group","type":"nominal","scale":{"domain":["SFM","IgG","dsDNA IgG Ab"],"paddingInner":0.316,"paddingOuter":0.158},"axis":{"labelAngle":0,"labelFontWeight":"bold","labelFontSize":7.5,"title":null}},"y":{"field":"value","type":"quantitative","scale":{"domain":[0,15]},"axis":{"values":[0,5,10,15],"tickCount":12,"format":"d","labelFontWeight":"bold","labelFontSize":8,"title":null}},"y2":{"field":"top"}}},
{"mark":{"type":"tick","orient":"horizontal","color":"#000","size":18,"thickness":1.2},"encoding":{"x":{"field":"group","type":"nominal"},"y":{"field":"top","type":"quantitative"}}},
{"mark":{"type":"bar","stroke":"#c8c8c8","strokeWidth":1},"encoding":{"x":{"field":"group","type":"nominal"},"y":{"field":"value","type":"quantitative"},"color":{"field":"group","type":"nominal","scale":{"domain":["SFM","IgG","dsDNA IgG Ab"],"range":["#000000","#9b9b9f","#7f7f7f"]},"legend":null}}},
{"data":{"name":"brackets"},"transform":[{"filter":"datum.gene==='IL1B'"}],"mark":{"type":"rule","color":"#000","strokeWidth":1.4},"encoding":{"x":{"field":"a","type":"nominal"},"y":{"field":"lo","type":"quantitative"},"y2":{"field":"top"}}},
{"data":{"name":"brackets"},"transform":[{"filter":"datum.gene==='IL1B'"}],"mark":{"type":"rule","color":"#000","strokeWidth":1.4},"encoding":{"x":{"field":"b","type":"nominal"},"y":{"field":"hi","type":"quantitative"},"y2":{"field":"top"}}},
{"data":{"name":"brackets"},"transform":[{"filter":"datum.gene==='IL1B'"}],"mark":{"type":"rule","color":"#000","strokeWidth":1.4},"encoding":{"x":{"field":"a","type":"nominal"},"x2":{"field":"b"},"y":{"field":"top","type":"quantitative"}}},
{"data":{"name":"brackets"},"transform":[{"filter":"datum.gene==='IL1B'"}],"mark":{"type":"text","dx":23.9,"fontSize":8,"baseline":"middle","color":"#000"},"encoding":{"x":{"field":"a","type":"nominal"},"y":{"field":"sy","type":"quantitative"},"text":{"field":"star"}}},
{"data":{"values":[{"t":"IL1β"}]},"mark":{"type":"text","fontSize":10,"fontStyle":"italic","align":"right","dx":-14.7,"baseline":"alphabetic"},"encoding":{"x":{"datum":"IgG","type":"nominal"},"y":{"datum":17}, "text":{"field":"t"}}},
{"data":{"values":[{"t":"expression"}]},"mark":{"type":"text","fontSize":10,"align":"left","dx":-13.4,"baseline":"alphabetic"},"encoding":{"x":{"datum":"IgG","type":"nominal"},"y":{"datum":17},"text":{"field":"t"}}}
]},
{"width":46.6,"height":1,"data":{"values":[{}]},"mark":{"type":"text","fontSize":1},"encoding":{"text":{"value":" "}}},
{"width":129,"height":96,"title":{"text":["The comparison of expression fold change","between microarray and qPCR validation"],"fontSize":7.8,"fontWeight":"bold","lineHeight":10,"offset":-3,"anchor":"middle","frame":"group"},"layer":[
{"data":{"name":"fold"},"mark":{"type":"bar"},"encoding":{"x":{"field":"fc","type":"quantitative","scale":{"domain":[0,12]},"axis":{"values":[0,2,4,6,8,10,12],"tickCount":14,"format":"d","title":"Relative fold change compared to IgG stimulation","titleFontSize":7.2,"titleFontWeight":"bold","titlePadding":5,"labelFontWeight":"bold","labelFontSize":7}},"y":{"field":"gene","type":"nominal","scale":{"domain":["CXCL8","IL-1β","SMAD2","MAP4K4","PIK3CA","NFAT5","CREB1"],"paddingInner":0.3,"paddingOuter":0.543,"align":0.8},"axis":{"domain":false,"title":null,"labelFontStyle":"italic","labelFontSize":6,"labelColor":"#555"}},"yOffset":{"field":"method","type":"nominal","scale":{"domain":["qPCR","Microarray"]}},"color":{"field":"method","type":"nominal","scale":{"domain":["Microarray","qPCR"],"range":["#000000","#808080"]},"legend":null}}},
{"data":{"values":[{"t":"axis"}]},"mark":{"type":"rule","color":"#222","strokeWidth":1,"yOffset":-6,"y2Offset":6.5},"encoding":{"x":{"datum":0},"y":{"datum":"CXCL8","type":"nominal"},"y2":{"datum":"CREB1"}}},
{"data":{"values":[{"method":"Microarray"}]},"mark":{"type":"rule","strokeWidth":5},"encoding":{"x":{"datum":12.77},"x2":{"datum":13.77},"y":{"datum":"CXCL8","type":"nominal"},"color":{"field":"method","type":"nominal"}}},
{"data":{"values":[{"method":"qPCR"}]},"mark":{"type":"rule","strokeWidth":5,"yOffset":10},"encoding":{"x":{"datum":12.77},"x2":{"datum":13.77},"y":{"datum":"CXCL8","type":"nominal"},"color":{"field":"method","type":"nominal"}}},
{"data":{"values":[{"method":"Microarray"}]},"mark":{"type":"text","fontSize":7.4,"align":"left","baseline":"middle","color":"#222"},"encoding":{"x":{"datum":14.1},"y":{"datum":"CXCL8","type":"nominal"},"text":{"field":"method"}}},
{"data":{"values":[{"method":"qPCR"}]},"mark":{"type":"text","fontSize":7.4,"align":"left","baseline":"middle","dy":10,"color":"#222"},"encoding":{"x":{"datum":14.1},"y":{"datum":"CXCL8","type":"nominal"},"text":{"field":"method"}}}
]}
],"spacing":0,"bounds":"flush"},
{"width":10,"height":41.1,"data":{"values":[{}]},"mark":{"type":"text","fontSize":1},"encoding":{"text":{"value":" "}}},
{"hconcat":[
{"width":138.6,"height":1,"data":{"values":[{}]},"mark":{"type":"text","fontSize":1},"encoding":{"text":{"value":" "}}},
{"width":160.4,"height":124.5,"data":{"name":"go"},"layer":[
{"data":{"values":[{"t":"threshold"}]},"mark":{"type":"rule","color":"#000","strokeDash":[2,2],"strokeWidth":1},"encoding":{"x":{"datum":1.34,"scale":{"domain":[0,5]},"axis":{"values":[0,1,2,3,4,5],"tickCount":10,"format":"d","title":"Z-score","titleFontSize":8.6,"titleFontWeight":"bold","titlePadding":7,"labelFontWeight":"bold","labelFontSize":8}}}},
{"mark":{"type":"bar","color":"#000","stroke":"#999","strokeWidth":1.2},"encoding":{"x":{"field":"z","type":"quantitative"},"y":{"field":"term","type":"nominal","sort":null,"scale":{"paddingInner":0.35,"paddingOuter":0.175},"axis":{"title":null,"labelFontWeight":"bold","labelFontSize":7.3,"labelLimit":200}}}},
{"mark":{"type":"text","fontStyle":"italic","fontSize":8,"align":"left","dx":11,"baseline":"middle"},"encoding":{"x":{"field":"z","type":"quantitative"},"y":{"field":"term","type":"nominal","sort":null},"text":{"value":"p"}}},
{"mark":{"type":"text","fontWeight":"bold","fontSize":7.5,"align":"left","dx":15.5,"baseline":"middle"},"encoding":{"x":{"field":"z","type":"quantitative"},"y":{"field":"term","type":"nominal","sort":null},"text":{"field":"pv"}}},
{"data":{"values":[{"t":"Enriched Gene Ontology from anti-dsDNA IgG antibodies stimulated HMCs"}]},"mark":{"type":"text","fontWeight":"bold","fontSize":8.7,"align":"left","dy":-30,"baseline":"alphabetic","color":"#111"},"encoding":{"x":{"datum":-2.316},"y":{"datum":"Cell cycle","type":"nominal"},"text":{"field":"t"}}},
{"data":{"values":[{"t":"C"}]},"mark":{"type":"text","font":"Liberation Serif","fontWeight":"bold","fontSize":22,"align":"left","dy":-24,"baseline":"alphabetic","color":"#000"},"encoding":{"x":{"datum":-3.94},"y":{"datum":"Cell cycle","type":"nominal"},"text":{"field":"t"}}}
]}
],"spacing":0,"bounds":"flush"}
]}
